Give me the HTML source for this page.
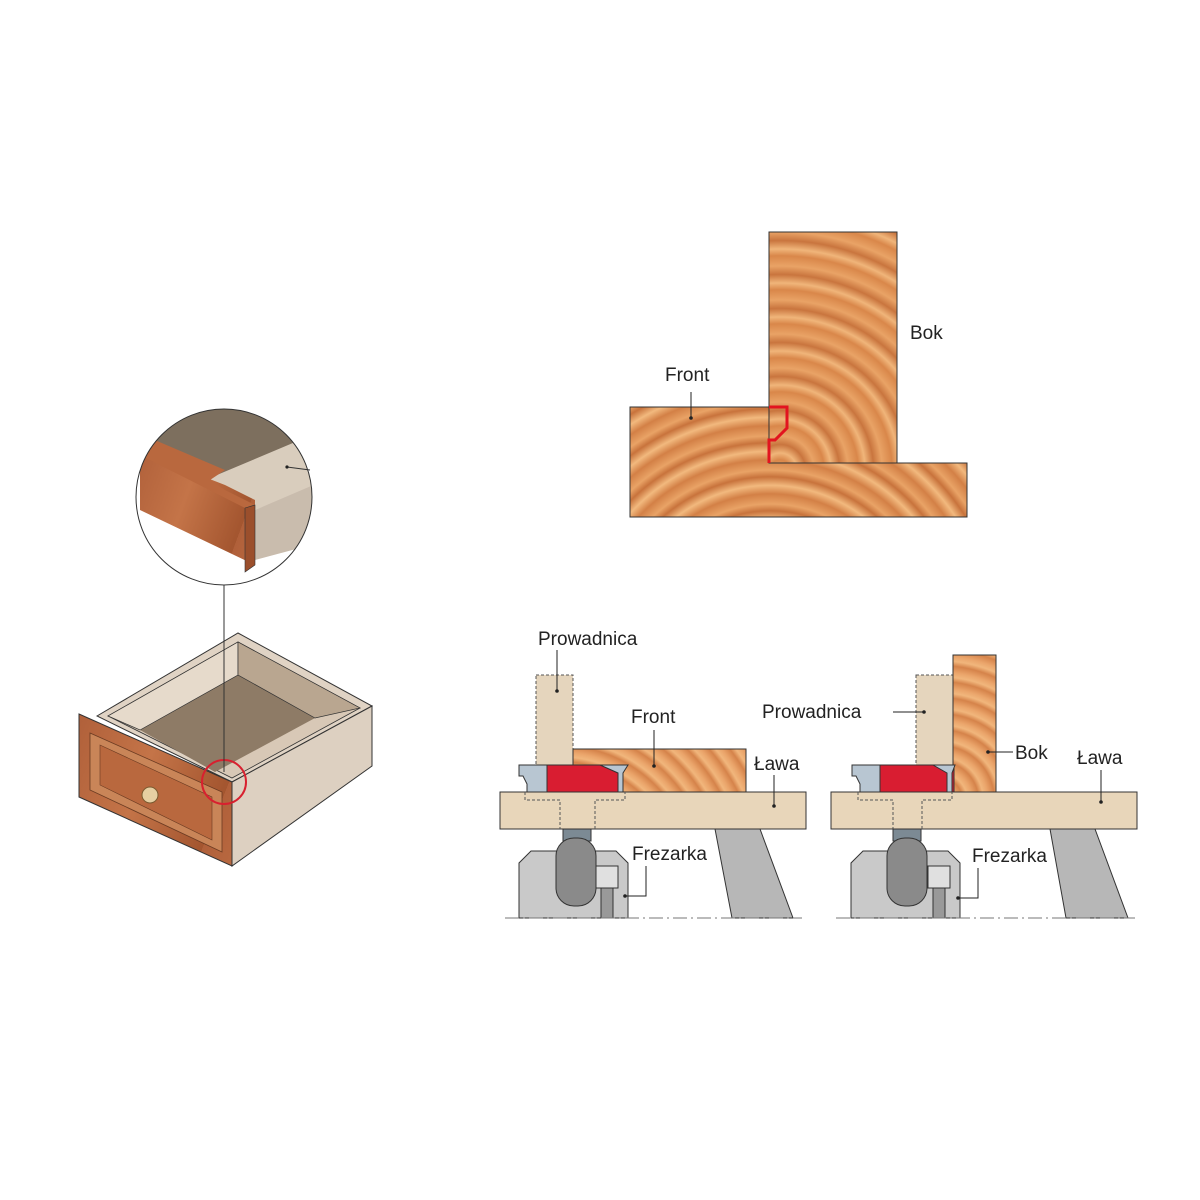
<!DOCTYPE html>
<html><head><meta charset="utf-8"><style>
html,body{margin:0;padding:0;background:#fff;}
svg{display:block;}
text{font-family:"Liberation Sans",sans-serif;fill:#222;}
</style></head><body>
<svg width="1200" height="1200" viewBox="0 0 1200 1200" xmlns="http://www.w3.org/2000/svg">
<defs>
<radialGradient id="w1" gradientUnits="userSpaceOnUse" cx="780" cy="470" r="34" spreadMethod="repeat">
<stop offset="0" stop-color="#e9a366"/><stop offset="0.3" stop-color="#d9874a"/><stop offset="0.5" stop-color="#f0b57a"/><stop offset="0.75" stop-color="#c9753e"/><stop offset="1" stop-color="#e9a366"/></radialGradient>
<radialGradient id="w2" gradientUnits="userSpaceOnUse" cx="770" cy="640" r="34" spreadMethod="repeat">
<stop offset="0" stop-color="#e9a366"/><stop offset="0.3" stop-color="#d38046"/><stop offset="0.55" stop-color="#f2b97e"/><stop offset="0.8" stop-color="#c8733c"/><stop offset="1" stop-color="#e9a366"/></radialGradient>
<radialGradient id="w3" gradientUnits="userSpaceOnUse" cx="560" cy="880" r="16" spreadMethod="repeat">
<stop offset="0" stop-color="#eaa46a"/><stop offset="0.4" stop-color="#d5834a"/><stop offset="0.7" stop-color="#f1b67c"/><stop offset="1" stop-color="#eaa46a"/></radialGradient>
<radialGradient id="w4" gradientUnits="userSpaceOnUse" cx="940" cy="800" r="16" spreadMethod="repeat">
<stop offset="0" stop-color="#eaa46a"/><stop offset="0.4" stop-color="#d5834a"/><stop offset="0.7" stop-color="#f1b67c"/><stop offset="1" stop-color="#eaa46a"/></radialGradient>
<linearGradient id="dr" x1="0" y1="0" x2="1" y2="0.4" spreadMethod="repeat">
<stop offset="0" stop-color="#b0603a"/><stop offset="0.5" stop-color="#c47448"/><stop offset="1" stop-color="#a3552f"/></linearGradient>
<clipPath id="cc"><circle cx="224" cy="497" r="88"/></clipPath>
</defs>

<!-- Top joint -->
<rect x="769" y="232" width="128" height="231" fill="url(#w1)" stroke="#333" stroke-width="1"/>
<polygon points="630,407 769,407 769,463 967,463 967,517 630,517" fill="url(#w2)" stroke="#333" stroke-width="1"/>
<polyline points="769,407 787,407 787,428 775,440 769,440 769,463" fill="none" stroke="#e2141f" stroke-width="3"/>
<text x="665" y="381" font-size="19">Front</text>
<line x1="691" y1="392" x2="691" y2="418" stroke="#222"/><circle cx="691" cy="418" r="1.8" fill="#222"/>
<text x="910" y="339" font-size="19">Bok</text>

<!-- Drawer -->
<polygon points="97,716 238,633 372,706 232,782" fill="#e0d3c4" stroke="#333"/>
<polygon points="108,716 238,642 360,708 232,778" fill="#d8c8b6" stroke="#333" stroke-width="0.8"/>
<polygon points="140,730 238,675 315,718 215,772" fill="#8e7b66"/>
<polygon points="108,716 140,730 238,675 238,642" fill="#e6dacb" stroke="#333" stroke-width="0.7"/>
<polygon points="238,642 238,675 315,718 360,708" fill="#b9a690" stroke="#333" stroke-width="0.7"/>
<polygon points="232,782 372,706 372,766 232,866" fill="#ddd0c1" stroke="#333"/>
<polygon points="79,714 232,782 232,866 79,797" fill="url(#dr)" stroke="#333"/>
<polygon points="90,733 222,792 222,852 90,790" fill="#c98558" stroke="#6b3b22" stroke-width="0.8"/>
<polygon points="100,745 212,797 212,840 100,785" fill="#b9683e" stroke="#6b3b22" stroke-width="0.6"/>
<circle cx="150" cy="795" r="8" fill="#e6cfa2" stroke="#7a5a30"/>
<circle cx="224" cy="782" r="22" fill="none" stroke="#d8202f" stroke-width="2"/>
<line x1="224" y1="585" x2="224" y2="772" stroke="#333"/>
<!-- zoom circle -->
<g clip-path="url(#cc)">
<rect x="130" y="400" width="190" height="190" fill="#fff"/>
<polygon points="160,400 330,400 330,445 215,495 150,452" fill="#7d6f5e"/>
<polygon points="205,480 300,440 330,420 330,480 255,510 230,500" fill="#d9cdbd"/>
<polygon points="255,510 330,478 330,540 255,560" fill="#c9bcad"/>
<polygon points="140,440 215,470 207,478 225,485 255,500 255,565 140,510" fill="url(#dr)"/>
<polygon points="140,440 150,438 225,470 210,480 225,490 255,505 245,508 140,455" fill="#b9683e"/>
<polygon points="245,508 255,505 255,565 245,572" fill="#9b4f2c" stroke="#333" stroke-width="0.6"/>
</g>
<circle cx="224" cy="497" r="88" fill="none" stroke="#333" stroke-width="1"/>
<line x1="287" y1="467" x2="310" y2="470" stroke="#333"/><circle cx="287" cy="467" r="1.6" fill="#222"/>

<!-- Left machine -->
<rect x="536" y="675" width="37" height="90" fill="#e5d5bd" stroke="#555" stroke-dasharray="3,2"/>
<rect x="573" y="749" width="173" height="43" fill="url(#w3)" stroke="#333"/>
<rect x="543" y="765" width="80" height="27" fill="#d91d31" stroke="#333"/>
<path d="M519,765 h28 v27 h-20 v-8 l-4,-8 h-4z" fill="#b8c6d2" stroke="#333"/>
<path d="M600,765 h28 l-5,8 v19 h-5 v-19z" fill="#b8c6d2" stroke="#333"/>
<rect x="500" y="792" width="306" height="37" fill="#e8d6ba" stroke="#333"/>
<path d="M525,792 v8 h35 v29 M595,829 v-29 h30 v-8" fill="none" stroke="#555" stroke-dasharray="3,2"/>
<polygon points="715,829 760,829 793,918 732,918" fill="#b7b7b7" stroke="#333"/>
<rect x="563" y="829" width="28" height="12" fill="#7c8a94" stroke="#333"/>
<path d="M519,918 v-55 l12,-12 h85 l12,12 v55z" fill="#c9c9c9" stroke="#333"/>
<rect x="596" y="866" width="22" height="22" fill="#e0e0e0" stroke="#333"/>
<rect x="601" y="888" width="12" height="30" fill="#999" stroke="#333"/>
<rect x="556" y="838" width="40" height="68" rx="18" fill="#8a8a8a" stroke="#333"/>
<line x1="505" y1="918" x2="802" y2="918" stroke="#777" stroke-dasharray="14,4,2,4"/>
<text x="538" y="645" font-size="19">Prowadnica</text>
<line x1="557" y1="650" x2="557" y2="690" stroke="#222"/><circle cx="557" cy="691" r="1.8" fill="#222"/>
<text x="631" y="723" font-size="19">Front</text>
<line x1="654" y1="730" x2="654" y2="765" stroke="#222"/><circle cx="654" cy="766" r="1.8" fill="#222"/>
<text x="754" y="770" font-size="19">Ława</text>
<line x1="774" y1="775" x2="774" y2="805" stroke="#222"/><circle cx="774" cy="806" r="1.8" fill="#222"/>
<text x="632" y="860" font-size="19">Frezarka</text>
<path d="M646,866 v30 h-21" fill="none" stroke="#222"/><circle cx="625" cy="896" r="1.8" fill="#222"/>

<!-- Right machine -->
<rect x="916" y="675" width="37" height="117" fill="#e5d5bd" stroke="#555" stroke-dasharray="3,2"/>
<rect x="953" y="655" width="43" height="137" fill="url(#w4)" stroke="#333"/>
<rect x="876" y="765" width="78" height="27" fill="#d91d31" stroke="#333"/>
<path d="M852,765 h28 v27 h-20 v-8 l-4,-8 h-4z" fill="#b8c6d2" stroke="#333"/>
<path d="M933,765 h22 l-3,8 v19 h-5 v-19z" fill="#b8c6d2" stroke="#333"/>
<rect x="831" y="792" width="306" height="37" fill="#e8d6ba" stroke="#333"/>
<path d="M858,792 v8 h35 v29 M922,829 v-29 h30 v-8" fill="none" stroke="#555" stroke-dasharray="3,2"/>
<polygon points="1050,829 1095,829 1128,918 1066,918" fill="#b7b7b7" stroke="#333"/>
<rect x="893" y="829" width="28" height="12" fill="#7c8a94" stroke="#333"/>
<path d="M851,918 v-55 l12,-12 h85 l12,12 v55z" fill="#c9c9c9" stroke="#333"/>
<rect x="928" y="866" width="22" height="22" fill="#e0e0e0" stroke="#333"/>
<rect x="933" y="888" width="12" height="30" fill="#999" stroke="#333"/>
<rect x="887" y="838" width="40" height="68" rx="18" fill="#8a8a8a" stroke="#333"/>
<line x1="836" y1="918" x2="1135" y2="918" stroke="#777" stroke-dasharray="14,4,2,4"/>
<text x="762" y="718" font-size="19">Prowadnica</text>
<line x1="893" y1="712" x2="924" y2="712" stroke="#222"/><circle cx="924" cy="712" r="1.8" fill="#222"/>
<text x="1015" y="759" font-size="19">Bok</text>
<line x1="988" y1="752" x2="1013" y2="752" stroke="#222"/><circle cx="988" cy="752" r="1.8" fill="#222"/>
<text x="1077" y="764" font-size="19">Ława</text>
<line x1="1101" y1="770" x2="1101" y2="802" stroke="#222"/><circle cx="1101" cy="802" r="1.8" fill="#222"/>
<text x="972" y="862" font-size="19">Frezarka</text>
<path d="M978,868 v30 h-20" fill="none" stroke="#222"/><circle cx="958" cy="898" r="1.8" fill="#222"/>
</svg>
</body></html>
